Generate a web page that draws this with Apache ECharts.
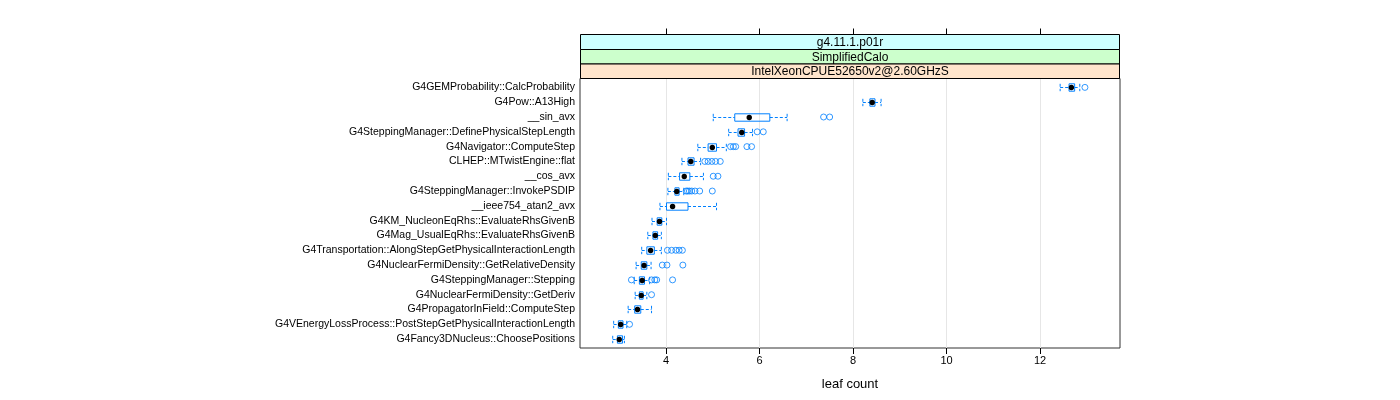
<!DOCTYPE html>
<html>
<head>
<meta charset="utf-8">
<script src="https://cdn.jsdelivr.net/npm/echarts@6/dist/echarts.min.js"></script>
<style>html,body{margin:0;padding:0;background:#fff}#chart{width:1400px;height:400px}</style>
</head>
<body>
<div id="chart"></div>
<script>
// ---- data ----
const categories = [
  "G4GEMProbability::CalcProbability",
  "G4Pow::A13High",
  "__sin_avx",
  "G4SteppingManager::DefinePhysicalStepLength",
  "G4Navigator::ComputeStep",
  "CLHEP::MTwistEngine::flat",
  "__cos_avx",
  "G4SteppingManager::InvokePSDIP",
  "__ieee754_atan2_avx",
  "G4KM_NucleonEqRhs::EvaluateRhsGivenB",
  "G4Mag_UsualEqRhs::EvaluateRhsGivenB",
  "G4Transportation::AlongStepGetPhysicalInteractionLength",
  "G4NuclearFermiDensity::GetRelativeDensity",
  "G4SteppingManager::Stepping",
  "G4NuclearFermiDensity::GetDeriv",
  "G4PropagatorInField::ComputeStep",
  "G4VEnergyLossProcess::PostStepGetPhysicalInteractionLength",
  "G4Fancy3DNucleus::ChoosePositions"
];
const lowWhisker  = [12.43, 8.21, 5.01, 5.34, 4.68, 4.34, 4.05, 4.04, 3.87, 3.70, 3.61, 3.48, 3.36, 3.32, 3.34, 3.19, 2.88, 2.86];
const quart1      = [12.62, 8.36, 5.47, 5.54, 4.90, 4.47, 4.29, 4.19, 4.01, 3.81, 3.72, 3.59, 3.47, 3.43, 3.43, 3.33, 2.98, 2.96];
const medians     = [12.67, 8.41, 5.78, 5.62, 4.99, 4.53, 4.39, 4.23, 4.14, 3.86, 3.77, 3.67, 3.53, 3.49, 3.47, 3.39, 3.03, 3.00];
const quart3      = [12.74, 8.47, 6.22, 5.68, 5.08, 4.60, 4.51, 4.28, 4.47, 3.91, 3.82, 3.75, 3.59, 3.54, 3.51, 3.46, 3.08, 3.07];
const highWhisker = [12.85, 8.60, 6.59, 5.85, 5.29, 4.74, 4.80, 4.38, 5.08, 4.01, 3.90, 3.90, 3.68, 3.65, 3.59, 3.69, 3.16, 3.11];
const outliers = [
  [12.96],
  [],
  [7.37, 7.50],
  [5.95, 6.08],
  [5.38, 5.44, 5.49, 5.73, 5.83],
  [4.83, 4.90, 4.98, 5.06, 5.16],
  [5.01, 5.11],
  [4.43, 4.46, 4.50, 4.55, 4.62, 4.72, 4.99],
  [],
  [],
  [],
  [4.03, 4.12, 4.21, 4.28, 4.35],
  [3.92, 4.02, 4.36],
  [3.26, 3.69, 3.76, 3.80, 4.14],
  [3.69],
  [],
  [3.22],
  []
];
const xTicks = [4, 6, 8, 10, 12];
const stripLabels = ["g4.11.1.p01r", "SimplifiedCalo", "IntelXeonCPUE52650v2@2.60GHzS"];
const xTitle = "leaf count";

// ---- build ----
const BLUE = '#0080ff';
const boxData = categories.map((c, i) => [i + 1, lowWhisker[i], quart1[i], medians[i], quart3[i], highWhisker[i]]);
const outData = [];
outliers.forEach((arr, i) => arr.forEach(v => outData.push([v, i + 1])));

function renderBox(params, api) {
  const row = api.value(0);
  const lo = api.coord([api.value(1), row]);
  const q1 = api.coord([api.value(2), row]);
  const md = api.coord([api.value(3), row]);
  const q3 = api.coord([api.value(4), row]);
  const hi = api.coord([api.value(5), row]);
  const hh = Math.abs(api.size([0, 1])[1]) * 0.25;
  const y = Math.round(md[1]) + 0.5;
  const dash = { stroke: BLUE, lineWidth: 1, lineDash: [3, 2], fill: null };
  const solid = { stroke: BLUE, lineWidth: 1, fill: null };
  return {
    type: 'group',
    children: [
      { type: 'line', shape: { x1: lo[0], y1: y, x2: q1[0], y2: y }, style: dash },
      { type: 'line', shape: { x1: q3[0], y1: y, x2: hi[0], y2: y }, style: dash },
      { type: 'line', shape: { x1: lo[0], y1: y - hh, x2: lo[0], y2: y + hh }, style: dash },
      { type: 'line', shape: { x1: hi[0], y1: y - hh, x2: hi[0], y2: y + hh }, style: dash },
      { type: 'rect', shape: { x: q1[0], y: y - hh, width: q3[0] - q1[0], height: 2 * hh }, style: solid },
      { type: 'circle', shape: { cx: md[0], cy: y, r: 2.7 }, style: { fill: '#000', stroke: null } }
    ]
  };
}

const FONT = 'Liberation Sans, Arial, sans-serif';
const L = 580, R = 1120, PT = 78.5, PB = 348;
const rowPx = (PB - PT) / 18.2;

const chart = echarts.init(document.getElementById('chart'), null, { renderer: 'canvas' });
const strips = [
  { y: 34.5, h: 15, fill: '#ccffff' },
  { y: 49.5, h: 14.5, fill: '#ccffcc' },
  { y: 64, h: 14.5, fill: '#ffe5cc' }
];
const graphics = [];
strips.forEach((s, i) => {
  graphics.push({ type: 'rect', shape: { x: L + 0.5, y: s.y, width: R - L - 1, height: s.h },
    style: { fill: s.fill, stroke: '#000', lineWidth: 1 }, z: 10 });
  graphics.push({ type: 'text', x: (L + R) / 2, y: s.y + s.h / 2 + 0.5,
    style: { text: stripLabels[i], font: '12px ' + FONT, fill: '#000', align: 'center', verticalAlign: 'middle' }, z: 11 });
});

chart.setOption({
  animation: false,
  backgroundColor: '#fff',
  textStyle: { fontFamily: FONT },
  graphic: graphics,
  grid: [
    { left: L, right: 1400 - R, top: PT, height: PB - PT, show: true, borderColor: '#333', borderWidth: 1, backgroundColor: 'transparent' },
    { left: L, right: 1400 - R, top: 34.5, height: 44, show: false },
    { left: L, right: 1400 - R, top: PT + 0.1 * rowPx, height: 18 * rowPx, show: false }
  ],
  xAxis: [
    { type: 'value', gridIndex: 0, min: 2.16, max: 13.71, position: 'bottom',
      axisLine: { show: false, onZero: false },
      axisTick: { show: true, length: 6, customValues: xTicks, lineStyle: { color: '#000' } },
      axisLabel: { show: true, customValues: xTicks, fontSize: 11, color: '#000', margin: 7, fontFamily: FONT },
      splitLine: { show: true, lineStyle: { color: '#e6e6e6', width: 1 } },
      name: xTitle, nameLocation: 'middle', nameGap: 30,
      nameTextStyle: { fontSize: 13, color: '#000', fontFamily: FONT } },
    { type: 'value', gridIndex: 1, min: 2.16, max: 13.71, position: 'top',
      axisLine: { show: false, onZero: false },
      axisTick: { show: true, length: 6, customValues: xTicks, lineStyle: { color: '#000' } },
      axisLabel: { show: false }, splitLine: { show: false } },
    { type: 'value', gridIndex: 2, show: false }
  ],
  yAxis: [
    { type: 'value', gridIndex: 0, min: 0.4, max: 18.6, inverse: true, show: false,
      axisLine: { show: false }, axisTick: { show: false }, axisLabel: { show: false }, splitLine: { show: false } },
    { type: 'value', gridIndex: 1, min: 0, max: 1, show: false },
    { type: 'category', gridIndex: 2, data: categories, inverse: true,
      axisLine: { show: false }, axisTick: { show: false },
      axisLabel: { show: true, interval: 0, fontSize: 10.5, color: '#000', margin: 5, fontFamily: FONT },
      splitLine: { show: false } }
  ],
  series: [
    { type: 'custom', xAxisIndex: 0, yAxisIndex: 0, renderItem: renderBox, data: boxData,
      encode: { x: [1, 2, 3, 4, 5], y: 0 }, z: 3, clip: true },
    { type: 'scatter', xAxisIndex: 0, yAxisIndex: 0, data: outData, symbol: 'circle', symbolSize: 6,
      itemStyle: { color: 'rgba(0,0,0,0)', borderColor: BLUE, borderWidth: 1 }, z: 4 }
  ]
});
</script>
</body>
</html>
